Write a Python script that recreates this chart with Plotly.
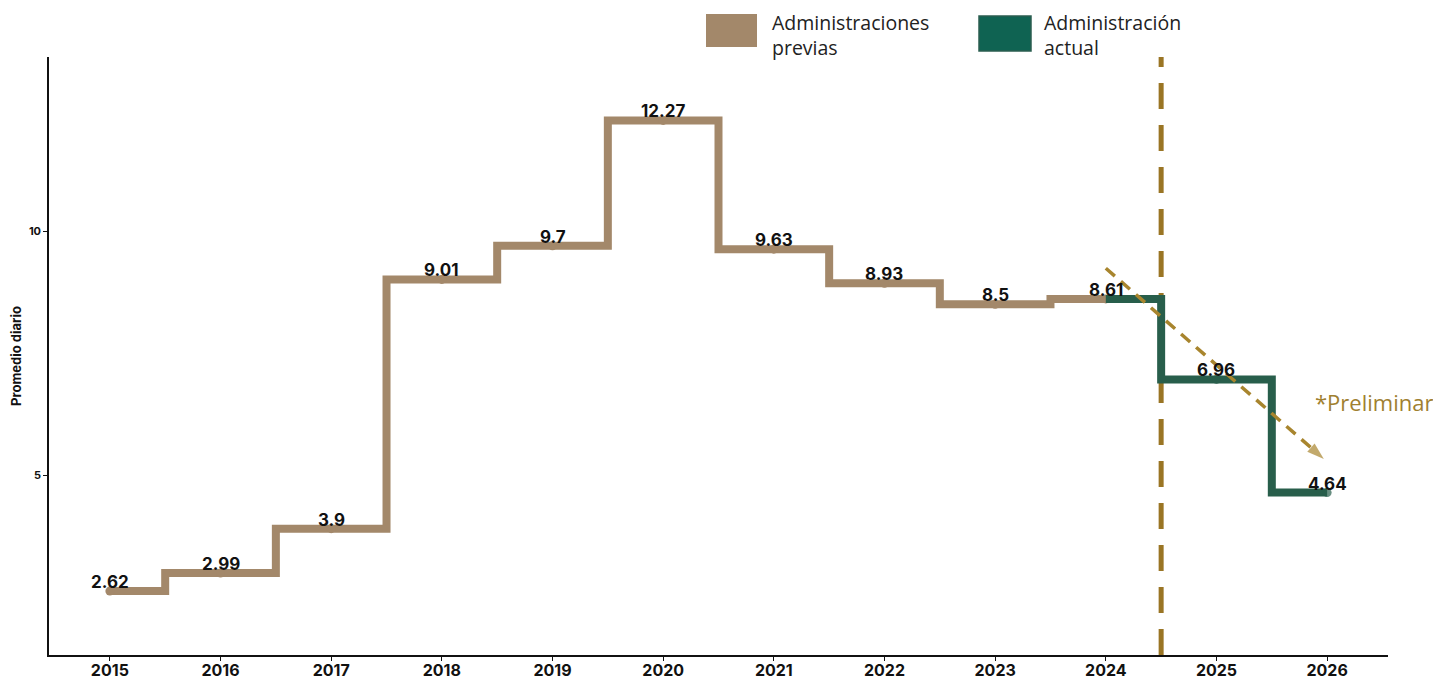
import plotly.graph_objects as go

years_prev = [2015, 2016, 2017, 2018, 2019, 2020, 2021, 2022, 2023, 2024]
vals_prev = [2.62, 2.99, 3.9, 9.01, 9.7, 12.27, 9.63, 8.93, 8.5, 8.61]
years_curr = [2024, 2025, 2026]
vals_curr = [8.61, 6.96, 4.64]
tick_years = list(range(2015, 2027))
legend_prev = "Administraciones<br>previas"
legend_curr = "Administración<br>actual"

BROWN = "#a3886a"
GREEN = "#285e4b"
GOLD = "#9a7524"
LABEL_FONT = dict(family="Inter, Lato, sans-serif", size=17, color="#111111", weight="bold")

# page body has an 8px margin; plot area in the reference spans x 49-1388, y 57-655
W, H = 1433, 672
L, R, T, B = 41, 53, 49, 25
PW, PH = W - L - R, H - T - B


def px_x(px):
    return (px - 8 - L) / PW


def px_y(py):
    return 1 - (py - 8 - T) / PH


fig = go.Figure()

fig.add_trace(go.Scatter(
    x=years_prev, y=vals_prev, mode="lines+markers",
    line=dict(shape="hvh", color=BROWN, width=8),
    marker=dict(size=9, color=BROWN, line=dict(width=0)),
    showlegend=False, hoverinfo="x+y",
))
fig.add_trace(go.Scatter(
    x=years_curr, y=vals_curr, mode="lines+markers",
    line=dict(shape="hvh", color=GREEN, width=8),
    marker=dict(size=[0, 9, 9], color=GREEN, line=dict(width=0)),
    showlegend=False, hoverinfo="x+y",
))

# data labels
for xs, ys in ((years_prev, vals_prev), (years_curr[1:], vals_curr[1:])):
    for x, y in zip(xs, ys):
        fig.add_annotation(x=x, y=y, xref="x", yref="y", text=f"{y:g}", showarrow=False,
                           yanchor="middle", yshift=9, font=LABEL_FONT)

# dashed trend arrow
fig.add_trace(go.Scatter(
    x=[2024.0, 2025.97], y=[9.24, 5.33], mode="lines+markers",
    line=dict(color="#a8852e", width=3.5, dash="12px,8px"),
    marker=dict(symbol="arrow", size=[0, 18], angleref="previous", color="#a8852e",
                line=dict(width=0)),
    showlegend=False, hoverinfo="skip", cliponaxis=False,
))

# vertical dashed divider
fig.add_shape(type="line", xref="x", yref="paper", x0=2024.5, x1=2024.5, y0=0, y1=1,
              line=dict(color=GOLD, width=5, dash="26px,16px"), layer="below")

fig.add_annotation(x=2025.87, y=6.5, xref="x", yref="y", text="*Preliminar",
                   showarrow=False, xanchor="left", yanchor="middle",
                   font=dict(family="Open Sans, sans-serif", size=22, color="#a08030"))

# custom legend
fig.add_shape(type="rect", xref="paper", yref="paper",
              x0=px_x(706), x1=px_x(757), y0=px_y(47), y1=px_y(14),
              fillcolor=BROWN, line=dict(width=0))
fig.add_shape(type="rect", xref="paper", yref="paper",
              x0=px_x(979), x1=px_x(1031), y0=px_y(51), y1=px_y(16),
              fillcolor="#0f6352", line=dict(width=1.5, color="#2b5e50"))
for x0, txt in ((771, legend_prev), (1043, legend_curr)):
    fig.add_annotation(xref="paper", yref="paper", x=px_x(x0), y=px_y(35),
                       text=txt, showarrow=False, align="left", borderpad=0,
                       xanchor="left", yanchor="middle",
                       font=dict(family="Open Sans, sans-serif", size=19.5, color="#222222"))

fig.update_layout(
    width=W, height=H,
    margin=dict(l=L, r=R, t=T, b=B, autoexpand=False),
    paper_bgcolor="white", plot_bgcolor="white",
    xaxis=dict(range=[2014.45, 2026.55], tickmode="array", tickvals=tick_years,
               ticktext=[str(y) for y in tick_years], showgrid=False, zeroline=False,
               showline=True, linecolor="#111111", linewidth=1.5, automargin=False,
               ticks="outside", ticklen=4, tickcolor="#111111", ticklabelstandoff=-4,
               tickfont=dict(family="Inter, sans-serif", size=16, color="#111111", weight="bold")),
    yaxis=dict(range=[1.31, 13.57], tickvals=[5, 10], showgrid=False, zeroline=False,
               showline=True, linecolor="#111111", linewidth=1.5, automargin=False,
               ticks="outside", ticklen=4, tickcolor="#111111",
               tickfont=dict(family="Inter, sans-serif", size=11, color="#111111", weight="bold"),
               title=dict(text="Promedio diario", standoff=10,
                          font=dict(family="Inter, sans-serif", size=13, color="#111111", weight="bold"))),
)

fig.write_html("out.html")
